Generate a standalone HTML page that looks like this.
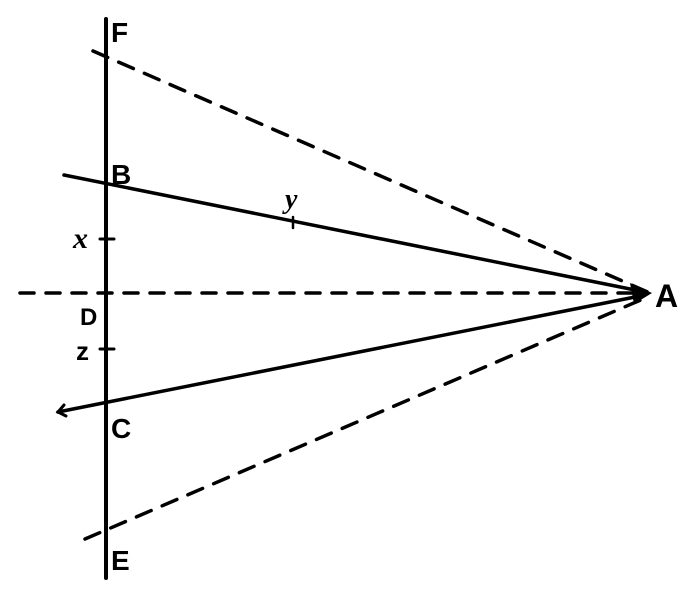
<!DOCTYPE html>
<html><head><style>body{margin:0;background:#fff}</style></head><body>
<svg width="700" height="585" xmlns="http://www.w3.org/2000/svg" font-family="Liberation Sans, sans-serif" font-weight="bold">
<g stroke="#000" fill="none" stroke-linecap="round">
<line x1="106" y1="19" x2="106" y2="578" stroke-width="4"/>
<line x1="93" y1="51" x2="650" y2="293" stroke-width="3.5" stroke-dasharray="16,12"/>
<line x1="64" y1="175" x2="645" y2="292" stroke-width="3.5"/>
<line x1="20" y1="293" x2="640" y2="293" stroke-width="3.5" stroke-dasharray="14,12"/>
<line x1="58" y1="412" x2="645" y2="295" stroke-width="3.5"/>
<line x1="85" y1="539" x2="650" y2="296" stroke-width="3.5" stroke-dasharray="16,12"/>
<line x1="100" y1="239" x2="114" y2="239" stroke-width="3"/>
<line x1="100" y1="349" x2="114" y2="349" stroke-width="3"/>
<line x1="293" y1="217" x2="293" y2="228" stroke-width="2.5"/>
<polyline points="64,405 58,412 66,416" stroke-width="3"/>
</g>
<polygon points="652,293 630,283 634,304" fill="#000"/>
<g font-size="28" fill="#000">
<text x="111" y="42">F</text>
<text x="111" y="184">B</text>
<text x="111" y="438">C</text>
<text x="111" y="570">E</text>
<text x="655" y="307" font-size="32">A</text>
<text x="80" y="325" font-size="24">D</text>
<text x="73" y="248" font-size="30" font-family="Liberation Serif, serif" font-style="italic">x</text>
<text x="76" y="360" font-size="26">z</text>
<text x="285" y="208" font-size="28" font-family="Liberation Serif, serif" font-style="italic">y</text>
</g>
</svg>
</body></html>
